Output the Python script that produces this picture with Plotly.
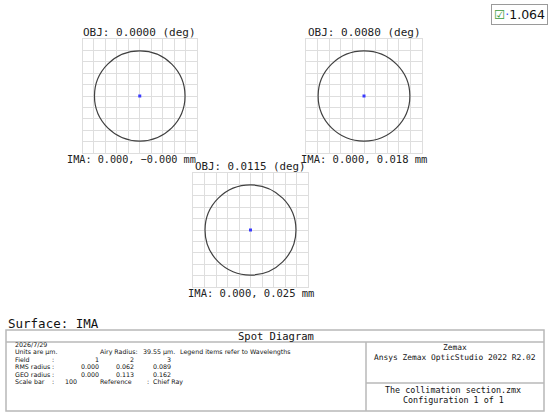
import plotly.graph_objects as go

# ---------------- data ----------------
field_deg = [0.0000, 0.0080, 0.0115]
ima_x_mm = [0.000, 0.000, 0.000]
ima_y_labels = ["\u22120.000", "0.018", "0.025"]
spot_x_um = [0.0, 0.0, 0.0]
spot_y_um = [0.0, 0.0, 0.0]
rms_radius = [0.000, 0.062, 0.089]
geo_radius = [0.000, 0.113, 0.162]
field_numbers = [1, 2, 3]
airy_radius_um = 39.55
scale_bar_um = 100
wavelength_um = 1.064
date_text = "2026/7/29"
reference_text = "Chief Ray"
software_text = "Ansys Zemax OpticStudio 2022 R2.02"
file_text = "The collimation section.zmx"
config_text = "Configuration 1 of 1"

# ---------------- layout helpers ----------------
W, H = 550, 416
def px(x):
    return x / W
def py(y):
    return 1 - y / H

MONO = "DejaVu Sans Mono"
SANS = "DejaVu Sans"
boxes = [(82.5, 197, 39, 153), (306, 422, 39, 153), (193, 308, 173, 287)]
half = scale_bar_um / 2

fig = go.Figure()
shapes = []
annotations = []
layout_axes = {}

for i, (l, r, t, b) in enumerate(boxes):
    sfx = "" if i == 0 else str(i + 1)
    xa, ya = "x" + sfx, "y" + sfx
    ax_common = dict(range=[-half, half], tick0=0, dtick=10, showticklabels=False,
                     ticks="", showgrid=True, gridcolor="#dedede", gridwidth=1,
                     zeroline=False, showline=True, mirror=True, linecolor="#dedede",
                     linewidth=1, fixedrange=True)
    layout_axes["xaxis" + sfx] = dict(ax_common, domain=[px(l), px(r)], anchor=ya)
    layout_axes["yaxis" + sfx] = dict(ax_common, domain=[py(b), py(t)], anchor=xa)

    fig.add_trace(go.Scatter(x=[spot_x_um[i]], y=[spot_y_um[i]], xaxis=xa, yaxis=ya,
                             mode="markers", showlegend=False, hoverinfo="skip",
                             marker=dict(color="#3a3aff", size=3, symbol="square")))
    shapes.append(dict(type="circle", xref=xa, yref=ya,
                       x0=-airy_radius_um, x1=airy_radius_um,
                       y0=-airy_radius_um, y1=airy_radius_um,
                       line=dict(color="#404040", width=1.2), layer="above"))
    annotations.append(dict(text=f"OBJ: {field_deg[i]:.4f} (deg)", xref=xa, x=0,
                            yref=ya + " domain", y=1, yshift=7, yanchor="middle",
                            xanchor="center", showarrow=False,
                            font=dict(family=MONO, size=(10.8 if i == 2 else 11), color="#222")))
    annotations.append(dict(text=f"IMA: {ima_x_mm[i]:.3f}, {ima_y_labels[i]} mm", xref=xa,
                            x=0, xshift=(-8 if i == 0 else 0),
                            yref=ya + " domain", y=0, yshift=-6, yanchor="middle",
                            xanchor="center", showarrow=False,
                            font=dict(family=MONO, size=(10.2 if i == 0 else 10.5), color="#222")))

# scale bar on first plot
bx = -half - 1.0
cap = 1.3
fig.add_trace(go.Scatter(
    x=[bx - cap, bx + cap, None, bx, bx, None, bx - cap, bx + cap],
    y=[half, half, None, -half, half, None, -half, -half],
    xaxis="x", yaxis="y", mode="lines", cliponaxis=False, showlegend=False,
    hoverinfo="skip", line=dict(color="#555", width=1)))
annotations.append(dict(text=f"{scale_bar_um:.2f}", xref="x", x=bx, xshift=-8,
                        yref="y", y=0, textangle=-90, showarrow=False,
                        xanchor="center", yanchor="middle",
                        font=dict(family=MONO, size=11, color="#222")))

# wavelength legend box
annotations.append(dict(
    text=f"<span style='color:#3a9a3a'>\u2611</span><span style='color:#3050ff'>\u00b7</span>{wavelength_um:.3f}",
    xref="paper", yref="paper", x=px(548), y=py(4), xanchor="right", yanchor="top",
    showarrow=False, bgcolor="white", bordercolor="#9a9a9a", borderwidth=1, borderpad=2,
    font=dict(family="DejaVu Sans", size=12.5, color="#111")))

annotations.append(dict(text="Surface: IMA", xref="paper", yref="paper", x=px(6), y=py(323),
                        xanchor="left", yanchor="middle", showarrow=False,
                        font=dict(family=MONO, size=12.5, color="#111")))

# table frame
lc = dict(color="#b8b8b8", width=1.5)
shapes.append(dict(type="rect", xref="paper", yref="paper", x0=px(6), x1=px(544),
                   y0=py(411), y1=py(330), line=lc))
shapes.append(dict(type="line", xref="paper", yref="paper", x0=px(6), x1=px(544),
                   y0=py(342), y1=py(342), line=lc))
shapes.append(dict(type="line", xref="paper", yref="paper", x0=px(366), x1=px(366),
                   y0=py(342), y1=py(411), line=lc))
shapes.append(dict(type="line", xref="paper", yref="paper", x0=px(366), x1=px(544),
                   y0=py(383), y1=py(383), line=lc))

def txt(s, x, y, size=6.3, anchor="left", family=SANS):
    annotations.append(dict(text=s, xref="paper", yref="paper", x=px(x), y=py(y),
                            xanchor=anchor, yanchor="middle", showarrow=False,
                            borderpad=0,
                            font=dict(family=family, size=size, color="#111")))

txt("Spot Diagram", 276, 336, size=10.5, anchor="center", family=MONO)

rows_y = [344.5, 351.9, 359.3, 366.7, 374.1, 381.5]
col_right = [100, 135, 172]
txt(date_text, 14, rows_y[0])
txt("Units are \u00b5m.", 14, rows_y[1])
txt("Airy Radius:", 99, rows_y[1])
txt(f"{airy_radius_um:.2f} \u00b5m.", 142, rows_y[1])
txt("Legend items refer to Wavelengths", 179, rows_y[1])
txt("Field", 14, rows_y[2])
txt("RMS radius", 14, rows_y[3])
txt("GEO radius", 14, rows_y[4])
txt("Scale bar", 14, rows_y[5])
for ry in rows_y[2:]:
    txt(":", 51, ry)
for j in range(3):
    txt(str(field_numbers[j]), col_right[j], rows_y[2], anchor="right")
    txt(f"{rms_radius[j]:.3f}", col_right[j], rows_y[3], anchor="right")
    txt(f"{geo_radius[j]:.3f}", col_right[j], rows_y[4], anchor="right")
txt(f"{scale_bar_um}", 64, rows_y[5])
txt("Reference", 99, rows_y[5])
txt(":", 146, rows_y[5])
txt(reference_text, 152, rows_y[5])

txt("Zemax", 455, 347.5, size=7.9, anchor="center", family=MONO)
txt(software_text, 455, 357.5, size=7.9, anchor="center", family=MONO)
txt(file_text, 453, 389.5, size=8.4, anchor="center", family=MONO)
txt(config_text, 453, 399.5, size=8.4, anchor="center", family=MONO)

fig.update_layout(width=W, height=H, margin=dict(l=0, r=0, t=0, b=0),
                  paper_bgcolor="white", plot_bgcolor="white", showlegend=False,
                  shapes=shapes, annotations=annotations, **layout_axes)

fig.write_html("out.html", config={"displayModeBar": False},
               post_script="document.body.style.margin='0';")
